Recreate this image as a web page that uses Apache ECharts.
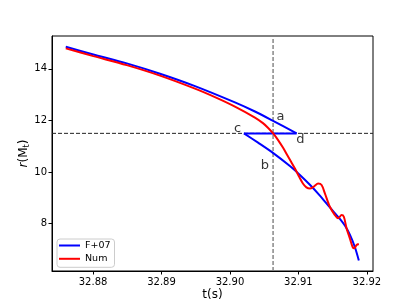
<!DOCTYPE html>
<html><head><meta charset="utf-8">
<script src="https://cdn.jsdelivr.net/npm/echarts@6/dist/echarts.min.js"></script>
<style>html,body{margin:0;padding:0;background:#fff}#c{width:415px;height:305px}</style>
</head><body><div id="c"></div>
<script>
// F+07 analytic curve: upper branch (to d), jump d->c, lower branch from c
const blueUpper = [[32.87601,14.852],[32.88004,14.557],[32.88492,14.209],[32.88978,13.810],[32.89489,13.330],[32.90073,12.699],[32.90365,12.347],[32.90609,12.014],[32.90974,11.499]];
const blueJump = [[32.90974,11.499],[32.90204,11.499]];
const blueLower = [[32.90204,11.499],[32.90416,11.129],[32.90628,10.745],[32.90876,10.235],[32.91022,9.890],[32.91168,9.510],[32.91314,9.090],[32.91460,8.630],[32.91606,8.190],[32.91679,7.930],[32.91752,7.580],[32.91825,7.100],[32.91883,6.580]];
// Numerical curve
const numT = [32.87601,32.88004,32.88492,32.88978,32.89489,32.89781,32.90073,32.90365,32.90482,32.90555,32.90628,32.90701,32.90774,32.90832,32.90891,32.90949,32.91007,32.91066,32.91117,32.91168,32.91226,32.91289,32.91339,32.91387,32.91460,32.91533,32.91581,32.91631,32.91664,32.91704,32.91752,32.91791,32.91815,32.91850,32.91883];
const numR = [14.790,14.492,14.143,13.737,13.233,12.904,12.537,12.111,11.895,11.720,11.507,11.250,10.950,10.680,10.410,10.140,9.840,9.560,9.410,9.362,9.440,9.556,9.498,9.176,8.657,8.336,8.208,8.336,8.270,7.821,7.434,7.109,7.047,7.175,7.214];
const tCross = 32.9063, rCross = 11.5;
const xRange = [32.874, 32.9209], yRange = [6.17, 15.27];
const xTicks = [32.88,32.89,32.90,32.91,32.92];
const yTicks = [8,10,12,14];
const annotations = [[32.9074,12.14,'a'],[32.9051,10.24,'b'],[32.9011,11.69,'c'],[32.9103,11.24,'d']];

const F = 'DejaVu Sans';
const chart = echarts.init(document.getElementById('c'), null, {renderer:'canvas'});
const numData = numT.map((t,i)=>[t,numR[i]]);
chart.setOption({
  animation:false,
  textStyle:{fontFamily:F},
  grid:{left:52,right:42,top:36,bottom:34,show:true,borderColor:'#000',borderWidth:1,containLabel:false,outerBoundsMode:'none'},
  legend:{
    orient:'vertical',left:57,top:239,
    data:[{name:'F+07'},{name:'Num'}],
    icon:'rect',itemWidth:21,itemHeight:2,itemGap:2.3,
    textStyle:{fontFamily:F,fontSize:9.5,lineHeight:11,color:'#000'},
    borderColor:'#cccccc',borderWidth:1,borderRadius:3,padding:[1,4,3,2],backgroundColor:'#fff'
  },
  xAxis:{type:'value',min:xRange[0],max:xRange[1],
    name:'t(s)',nameLocation:'middle',nameGap:18,nameMoveOverlap:false,nameTextStyle:{fontFamily:F,fontSize:12,color:'#000'},
    axisLine:{show:true,onZero:false,lineStyle:{color:'#000',width:1}},
    axisTick:{show:true,length:3.5,customValues:xTicks,lineStyle:{color:'#000'}},
    axisLabel:{customValues:xTicks,color:'#000',fontSize:10,fontFamily:F,margin:6,formatter:v=>v.toFixed(2)},
    splitLine:{show:false}},
  yAxis:{type:'value',min:yRange[0],max:yRange[1],
    name:'{i|r}(M{s|t})',nameLocation:'middle',nameRotate:90,nameGap:21,nameMoveOverlap:false,
    nameTextStyle:{fontFamily:F,fontSize:12,color:'#000',rich:{i:{fontFamily:F,fontSize:12,fontStyle:'italic'},s:{fontFamily:F,fontSize:8,verticalAlign:'bottom',padding:[6,0,0,0]}}},
    axisLine:{show:true,onZero:false,lineStyle:{color:'#000',width:1}},
    axisTick:{show:true,length:3.5,customValues:yTicks,lineStyle:{color:'#000'}},
    axisLabel:{customValues:yTicks,color:'#000',fontSize:10,fontFamily:F,margin:5},
    splitLine:{show:false}},
  series:[
    {type:'line',name:'vline',data:[[tCross,yRange[0]],[tCross,yRange[1]]],symbol:'none',silent:true,
      lineStyle:{color:'#7f7f7f',width:1.4,type:[4,2]},z:1},
    {type:'line',name:'hline',data:[[xRange[0],rCross],[xRange[1],rCross]],symbol:'none',silent:true,
      lineStyle:{color:'#222',width:1,type:[4,2]},z:1},
    {type:'line',name:'F+07',data:blueUpper,symbol:'none',smooth:0.25,color:'#0000ff',lineStyle:{color:'#0000ff',width:2},z:3},
    {type:'line',name:'F+07',data:blueJump,symbol:'none',color:'#0000ff',lineStyle:{color:'#0000ff',width:2},z:3},
    {type:'line',name:'F+07',data:blueLower,symbol:'none',smooth:0.25,color:'#0000ff',lineStyle:{color:'#0000ff',width:2},z:3},
    {type:'line',name:'Num',data:numData,symbol:'none',smooth:0.3,color:'#ff0000',lineStyle:{color:'#ff0000',width:2},z:4},
    {type:'scatter',name:'ann',data:annotations.map(a=>({value:[a[0],a[1]],label:{formatter:a[2]}})),symbolSize:0,silent:true,
      label:{show:true,position:'inside',color:'#000',fontSize:13,fontFamily:F},z:5}
  ]
});
</script></body></html>
